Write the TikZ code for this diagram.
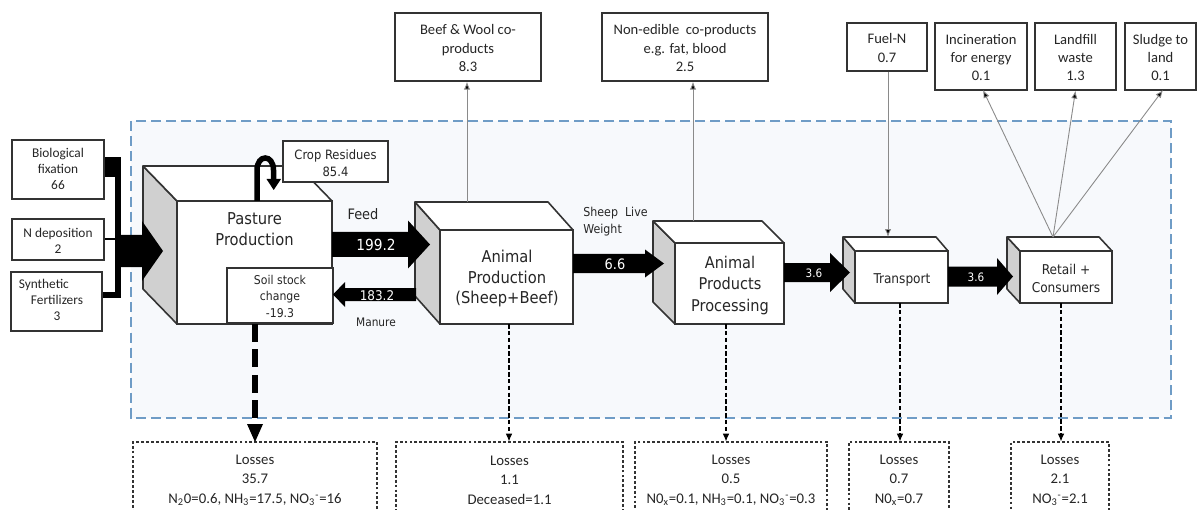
\documentclass[tikz,border=0pt]{standalone}
\usepackage{fontspec}
\setmainfont{Carlito}
\newfontfamily\tah{DejaVu Sans Condensed}
\usetikzlibrary{fit,arrows.meta,calc}
\definecolor{edge}{HTML}{333333}
\definecolor{sidegray}{HTML}{D0D0D0}
\definecolor{bgfill}{HTML}{F7F9FC}
\definecolor{bluedash}{HTML}{6F9CC6}
\definecolor{thinline}{HTML}{8A8A8A}
\definecolor{txt}{HTML}{262626}
\newcommand{\fs}[2]{\fontsize{#1}{#2}\selectfont}
% side and top faces of a 3D block: x1 y1 x2 y2 dx dy
\newcommand{\cubefaces}[6]{%
  \filldraw[fill=sidegray,draw=edge,line width=0.9pt,line join=round] (#1-#5,#2-#6) -- (#1,#2) -- (#1,#4) -- (#1-#5,#4-#6) -- cycle;
  \filldraw[fill=white,draw=edge,line width=0.9pt,line join=round] (#1-#5,#2-#6) -- (#3-#5,#2-#6) -- (#3,#2) -- (#1,#2) -- cycle;
}
% fat flow arrow: x0 xhead xtip ycenter halfshaft halfhead
\newcommand{\fatarrow}[6]{%
  \fill[black] (#1,#4-#5) -- (#2,#4-#5) -- (#2,#4-#6) -- (#3,#4) -- (#2,#4+#6) -- (#2,#4+#5) -- (#1,#4+#5) -- cycle;
}
\tikzset{
  front/.style={draw=edge,fill=white,line width=0.9pt,inner sep=0pt},
  tbox/.style={draw=edge,fill=white,line width=0.8pt,inner sep=0pt},
  ttxt/.style={align=center,text=txt,inner sep=0pt,font=\fs{8.3}{10.5}},
  inbox/.style={draw=edge,fill=white,line width=0.9pt,inner sep=0pt},
  intxt/.style={align=center,text=txt,inner sep=0pt,font=\fs{7.6}{9.1}},
  lossbox/.style={draw=edge,fill=white,line width=0.6pt,dash pattern=on 1.6pt off 1.2pt,inner sep=0pt},
  losstxt/.style={align=center,text=txt,inner sep=0pt,font=\fs{8.4}{11.2}},
  smallbox/.style={draw=edge,fill=white,line width=0.8pt,inner sep=0pt},
  bigtxt/.style={align=center,text=txt,inner sep=0pt,font=\tah\fs{9.3}{11.9}},
  midtxt/.style={align=center,text=txt,inner sep=0pt,font=\tah\fs{7.7}{10.2}},
  lbl/.style={text=txt,inner sep=0pt,font=\tah},
  wlbl/.style={text=white,inner sep=0pt,font=\tah},
  thinarr/.style={draw=thinline,line width=0.5pt,-{Latex[length=4.5pt,width=3.6pt,fill=black]}},
  lossarr/.style={draw=black,line width=0.6pt,dash pattern=on 2.6pt off 1.3pt,-{Latex[length=4.5pt,width=3.8pt]}},
}
\begin{document}
\begin{tikzpicture}[x=0.02cm,y=-0.02cm]
\useasboundingbox (0,0) rectangle (1198,510);
\clip (0,0) rectangle (1198,510);
\fill[white] (0,0) rectangle (1198,510);

% system boundary
\filldraw[fill=bgfill,draw=bluedash,line width=0.7pt,dash pattern=on 5.7pt off 2.9pt] (131,121) rectangle (1171,418);

% left inputs
\node[inbox,fit={(12,140)(104,199)}] (bio) {};
\node[intxt] (biot) at (58,169) {Biological\\fixation\\66};
\node[inbox,fit={(12,219)(104,260)}] (ndep) {};
\node[intxt] (ndept) at (58,241) {N deposition\\2};
\node[inbox,fit={(11,272)(102,331)}] (synth) {};
\node[intxt] (syntht) at (57,300) {Synthetic\hspace*{15pt}\\Fertilizers\hspace*{15pt}\\3};
\fill[black] (bio.east |- 0,157) rectangle (121,177);
\fill[black] (115,157) rectangle (121,298);
\fill[black] (synth.east |- 0,292) rectangle (121,298);
\draw[black,line width=0.6pt] (ndep.east |- 0,239) -- (115,239);

% 3D blocks
\cubefaces{177}{201}{332}{324}{34}{35}
\node[front,fit={(177,201)(332,324)}] (past) {};
\cubefaces{440}{230}{573}{324}{25}{28}
\node[front,fit={(440,230)(573,324)}] (anim) {};
\cubefaces{675}{243}{784}{324}{22}{22}
\node[front,fit={(675,243)(784,324)}] (proc) {};
\cubefaces{855}{251}{948}{303}{12}{14}
\node[front,fit={(855,251)(948,303)}] (trans) {};
\cubefaces{1020}{251}{1112}{303}{13}{14}
\node[front,fit={(1020,251)(1112,303)}] (ret) {};

\node[bigtxt] (pastlbl) at (254.5,229.5) {Pasture\\Production};
\node[bigtxt] (animlbl) at (507,278.5) {Animal\\Production\\(Sheep+Beef)};
\node[bigtxt,font=\tah\fs{9.2}{12.3}] (proclbl) at (730,285.5) {Animal\\Products\\Processing};
\node[midtxt] (translbl) at (902,279.5) {Transport};
\node[midtxt] (retlbl) at (1066,278.5) {Retail +\\Consumers};

% input flow arrow into pasture
\fatarrow{115}{142}{163}{251}{16}{30}

% crop residues loop
\draw[black,line width=0.11cm] (257,201) -- (257,170) .. controls (257,154) and (273.5,154) .. (273.5,170) -- (273.5,180);
\fill[black] (266.5,179) -- (281,179) -- (273.7,190) -- cycle;
\node[smallbox,fit={(283,141)(388,182)}] (crop) {};
\node[lbl,align=center,font=\tah\fs{7.3}{9.6}] (cropt) at (335.5,163) {Crop Residues\\85.4};

% soil stock change
\node[smallbox,line width=1.1pt,fit={(227,268)(333,323)}] (soil) {};
\node[lbl,align=center,font=\tah\fs{6.9}{9.4}] (soilt) at (280,296) {Soil stock\\change\\-19.3};

% flows between blocks
\fatarrow{332}{408}{430}{244.5}{12.5}{24}
\node[wlbl,font=\tah\fs{8.7}{10}] (feedv) at (376,245) {199.2};
\node[lbl,font=\tah\fs{8.2}{10}] (feedl) at (363,214) {Feed};
\fatarrow{416}{345}{333}{294.5}{6.5}{12.5}
\node[wlbl,font=\tah\fs{7.6}{9}] (manv) at (377,295.5) {183.2};
\node[lbl,font=\tah\fs{6.7}{8}] (manl) at (376,322) {Manure};

\fatarrow{573}{645}{664}{263.5}{9.5}{14}
\node[wlbl,font=\tah\fs{8.2}{9}] (sheepv) at (615,264) {6.6};
\node[lbl,font=\tah\fs{7}{9.6},align=left,anchor=west] (sheepl) at (583,222) {Sheep\ \ Live\\Weight};

\fatarrow{784}{830}{850}{272.5}{9.5}{19.5}
\node[wlbl,font=\tah\fs{6.6}{8}] (v36a) at (814,273) {3.6};
\fatarrow{948}{997}{1013}{276.5}{10}{18.5}
\node[wlbl,font=\tah\fs{6.6}{8}] (v36b) at (976,277.5) {3.6};

% top boxes
\node[tbox,fit={(395,13)(541,81)}] (beef) {};
\node[ttxt] (beeft) at (468,48) {Beef \& Wool co-\\products\\8.3};
\node[tbox,fit={(602,13)(768,81)}] (nonedible) {};
\node[ttxt] (nonediblet) at (685,48) {Non-edible\ \ co-products\\e.g. fat, blood\\2.5};
\node[tbox,fit={(847,23)(927,71)}] (fuel) {};
\node[ttxt] (fuelt) at (887,48) {Fuel-N\\0.7};
\node[tbox,fit={(935,23)(1027,90)}] (inc) {};
\node[ttxt] (inct) at (981,57.5) {Incineration\\for energy\\0.1};
\node[tbox,fit={(1035,23)(1116,90)}] (land) {};
\node[ttxt] (landt) at (1075.5,57.5) {Landfill\\waste\\1.3};
\node[tbox,fit={(1125,23)(1196,90)}] (sludge) {};
\node[ttxt] (sludget) at (1160.5,57.5) {Sludge to\\land\\0.1};

\coordinate (animtop) at (467,202);
\coordinate (proctop) at (693,221);
\coordinate (transtop) at (888,237);
\coordinate (rettop) at (1053,237);
\draw[thinarr] (animtop) -- (animtop |- beef.south);
\draw[thinarr] (proctop) -- (proctop |- nonedible.south);
\draw[thinarr] (fuel.south -| transtop) -- (transtop);
\draw[thinarr] (rettop) -- (983,90);
\draw[thinarr] (rettop) -- (land.south);
\draw[thinarr] (rettop) -- (1163,90);

% losses
\node[lossbox,fit={(133,442)(377,516)}] (loss1) {};
\node[losstxt] (loss1t) at (255,480) {Losses\\35.7\\N\textsubscript{2}0=0.6, NH\textsubscript{3}=17.5, NO\textsubscript{3}\textsuperscript{-}=16};
\node[lossbox,fit={(396,442)(623,516)}] (loss2) {};
\node[losstxt] (loss2t) at (509.5,480) {Losses\\1.1\\Deceased=1.1};
\node[lossbox,fit={(635,442)(827,516)}] (loss3) {};
\node[losstxt] (loss3t) at (731,480) {Losses\\0.5\\N0\textsubscript{x}=0.1, NH\textsubscript{3}=0.1, NO\textsubscript{3}\textsuperscript{-}=0.3};
\node[lossbox,fit={(849,442)(949,516)}] (loss4) {};
\node[losstxt] (loss4t) at (899,480) {Losses\\0.7\\N0\textsubscript{x}=0.7};
\node[lossbox,fit={(1011,442)(1109,516)}] (loss5) {};
\node[losstxt] (loss5t) at (1060,480) {Losses\\2.1\\NO\textsubscript{3}\textsuperscript{-}=2.1};

\coordinate (pastout) at (255,324);
\draw[black,line width=0.12cm,dash pattern=on 10pt off 4.5pt] (pastout) -- (255,426);
\fill[black] (247,424) -- (263,424) -- (255,442) -- cycle;
\coordinate (animout) at (509,324);
\coordinate (procout) at (726,324);
\coordinate (transout) at (900,303);
\coordinate (retout) at (1061,303);
\draw[lossarr] (animout) -- (animout |- loss2.north);
\draw[lossarr] (procout) -- (procout |- loss3.north);
\draw[lossarr] (transout) -- (transout |- loss4.north);
\draw[lossarr] (retout) -- (retout |- loss5.north);
\end{tikzpicture}
\end{document}
